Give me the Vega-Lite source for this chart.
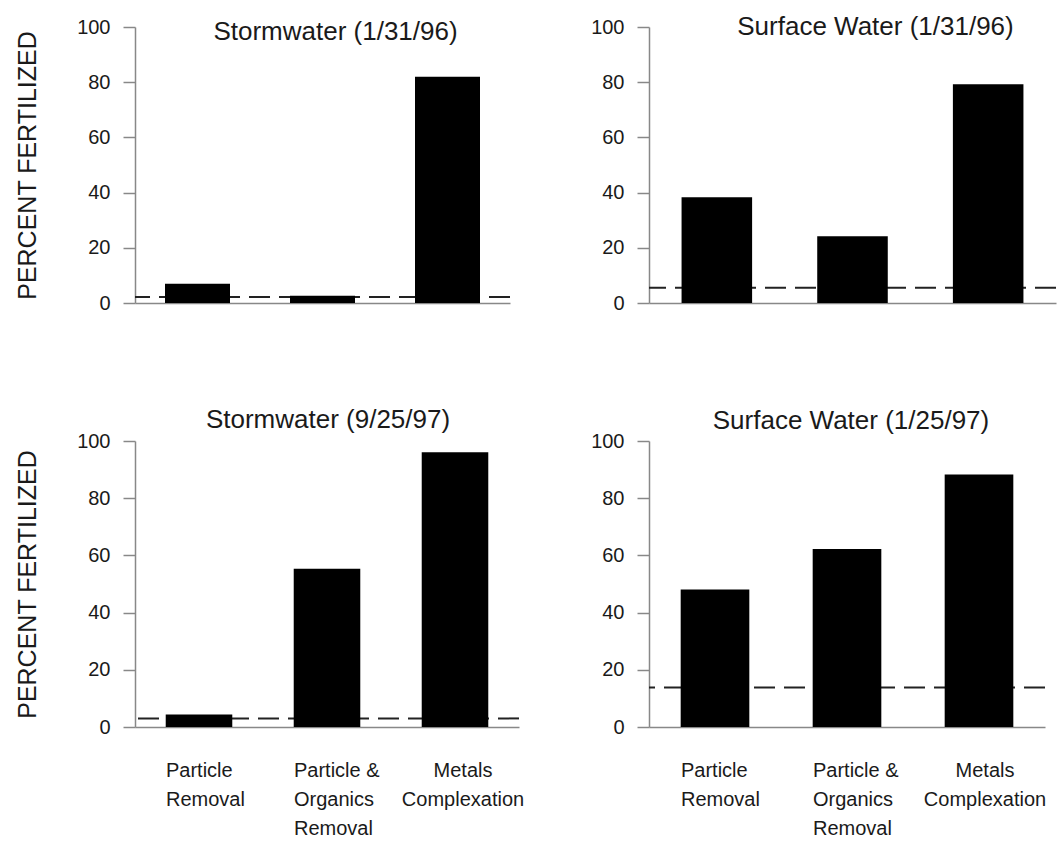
{
  "$schema": "https://vega.github.io/schema/vega-lite/v6.json",
  "background": "white",
  "padding": {"left": 15, "top": 14, "right": 0, "bottom": 0},
  "datasets": {
    "bars": [
      {"panel": "SW1", "treatment": "Particle Removal", "value": 7},
      {"panel": "SW1", "treatment": "Particle & Organics Removal", "value": 2.6},
      {"panel": "SW1", "treatment": "Metals Complexation", "value": 82},
      {"panel": "SU1", "treatment": "Particle Removal", "value": 38.3},
      {"panel": "SU1", "treatment": "Particle & Organics Removal", "value": 24.2},
      {"panel": "SU1", "treatment": "Metals Complexation", "value": 79.3},
      {"panel": "SW2", "treatment": "Particle Removal", "value": 4.4},
      {"panel": "SW2", "treatment": "Particle & Organics Removal", "value": 55.3},
      {"panel": "SW2", "treatment": "Metals Complexation", "value": 96.1},
      {"panel": "SU2", "treatment": "Particle Removal", "value": 48.1},
      {"panel": "SU2", "treatment": "Particle & Organics Removal", "value": 62.2},
      {"panel": "SU2", "treatment": "Metals Complexation", "value": 88.3}
    ],
    "controls": [
      {"panel": "SW1", "control": 2.2},
      {"panel": "SU1", "control": 5.5},
      {"panel": "SW2", "control": 3.0},
      {"panel": "SU2", "control": 13.8}
    ]
  },
  "columns": 2,
  "bounds": "flush",
  "align": "all",
  "spacing": {"row": 128, "column": 107},
  "concat": [
    {
      "width": 375, "height": 276,
      "title": {"text": "Stormwater (1/31/96)", "frame": "group", "anchor": "middle", "baseline": "alphabetic", "offset": 0, "dx": 13, "dy": 49},
      "layer": [
        {
          "data": {"name": "controls"},
          "transform": [{"filter": "datum.panel == 'SW1'"}],
          "mark": {"type": "rule", "color": "#222", "strokeWidth": 2, "strokeDash": [21, 9]},
          "encoding": {"y": {"field": "control", "type": "quantitative", "scale": {"domain": [0, 100]}, "axis": {"title": "PERCENT FERTILIZED", "values": [0, 20, 40, 60, 80, 100], "titlePadding": 36}}}
        },
        {
          "data": {"name": "bars"},
          "transform": [{"filter": "datum.panel == 'SW1'"}],
          "mark": {"type": "bar", "color": "#000"},
          "encoding": {
            "x": {"field": "treatment", "type": "nominal", "sort": ["Particle Removal", "Particle & Organics Removal", "Metals Complexation"], "scale": {"paddingInner": 0.48, "paddingOuter": 0.24}, "axis": {"title": null, "labels": false, "ticks": false}},
            "y": {"field": "value", "type": "quantitative", "scale": {"domain": [0, 100]}, "axis": {"title": "PERCENT FERTILIZED", "values": [0, 20, 40, 60, 80, 100], "titlePadding": 36}}
          }
        }
      ]
    },
    {
      "width": 407, "height": 276,
      "title": {"text": "Surface Water (1/31/96)", "frame": "group", "anchor": "middle", "baseline": "alphabetic", "offset": 0, "dx": 23, "dy": 44},
      "layer": [
        {
          "data": {"name": "controls"},
          "transform": [{"filter": "datum.panel == 'SU1'"}],
          "mark": {"type": "rule", "color": "#222", "strokeWidth": 2, "strokeDash": [21, 9]},
          "encoding": {"y": {"field": "control", "type": "quantitative", "scale": {"domain": [0, 100]}, "axis": {"title": null, "values": [0, 20, 40, 60, 80, 100]}}}
        },
        {
          "data": {"name": "bars"},
          "transform": [{"filter": "datum.panel == 'SU1'"}],
          "mark": {"type": "bar", "color": "#000"},
          "encoding": {
            "x": {"field": "treatment", "type": "nominal", "sort": ["Particle Removal", "Particle & Organics Removal", "Metals Complexation"], "scale": {"paddingInner": 0.48, "paddingOuter": 0.24}, "axis": {"title": null, "labels": false, "ticks": false}},
            "y": {"field": "value", "type": "quantitative", "scale": {"domain": [0, 100]}, "axis": {"title": null, "values": [0, 20, 40, 60, 80, 100]}}
          }
        }
      ]
    },
    {
      "width": 384, "height": 286,
      "title": {"text": "Stormwater (9/25/97)", "frame": "group", "anchor": "middle", "baseline": "alphabetic", "offset": 0, "dx": 1, "dy": 23},
      "layer": [
        {
          "data": {"name": "controls"},
          "transform": [{"filter": "datum.panel == 'SW2'"}],
          "mark": {"type": "rule", "color": "#222", "strokeWidth": 2, "strokeDash": [21, 9]},
          "encoding": {"y": {"field": "control", "type": "quantitative", "scale": {"domain": [0, 100]}, "axis": {"title": "PERCENT FERTILIZED", "values": [0, 20, 40, 60, 80, 100], "titlePadding": 36}}}
        },
        {
          "data": {"name": "bars"},
          "transform": [{"filter": "datum.panel == 'SW2'"}],
          "mark": {"type": "bar", "color": "#000"},
          "encoding": {
            "x": {"field": "treatment", "type": "nominal", "sort": ["Particle Removal", "Particle & Organics Removal", "Metals Complexation"], "scale": {"paddingInner": 0.48, "paddingOuter": 0.24},
              "axis": {"title": null, "ticks": false, "labelAngle": 0, "labelBaseline": "top", "labelPadding": 33, "labelFontSize": 20, "labelLineHeight": 29,
                "labelExpr": "datum.value == 'Particle Removal' ? ['Particle', 'Removal'] : datum.value == 'Particle & Organics Removal' ? ['Particle &', 'Organics', 'Removal'] : ['Metals', 'Complexation']",
                "labelAlign": {"condition": {"test": "datum.value == 'Metals Complexation'", "value": "center"}, "value": "left"},
                "labelOffset": {"condition": {"test": "datum.value == 'Metals Complexation'", "value": 8}, "value": -33}}},
            "y": {"field": "value", "type": "quantitative", "scale": {"domain": [0, 100]}, "axis": {"title": "PERCENT FERTILIZED", "values": [0, 20, 40, 60, 80, 100], "titlePadding": 36}}
          }
        }
      ]
    },
    {
      "width": 396, "height": 286,
      "title": {"text": "Surface Water (1/25/97)", "frame": "group", "anchor": "middle", "baseline": "alphabetic", "offset": 0, "dx": 4, "dy": 24},
      "layer": [
        {
          "data": {"name": "controls"},
          "transform": [{"filter": "datum.panel == 'SU2'"}],
          "mark": {"type": "rule", "color": "#222", "strokeWidth": 2, "strokeDash": [21, 9]},
          "encoding": {"y": {"field": "control", "type": "quantitative", "scale": {"domain": [0, 100]}, "axis": {"title": null, "values": [0, 20, 40, 60, 80, 100]}}}
        },
        {
          "data": {"name": "bars"},
          "transform": [{"filter": "datum.panel == 'SU2'"}],
          "mark": {"type": "bar", "color": "#000"},
          "encoding": {
            "x": {"field": "treatment", "type": "nominal", "sort": ["Particle Removal", "Particle & Organics Removal", "Metals Complexation"], "scale": {"paddingInner": 0.48, "paddingOuter": 0.24},
              "axis": {"title": null, "ticks": false, "labelAngle": 0, "labelBaseline": "top", "labelPadding": 33, "labelFontSize": 20, "labelLineHeight": 29,
                "labelExpr": "datum.value == 'Particle Removal' ? ['Particle', 'Removal'] : datum.value == 'Particle & Organics Removal' ? ['Particle &', 'Organics', 'Removal'] : ['Metals', 'Complexation']",
                "labelAlign": {"condition": {"test": "datum.value == 'Metals Complexation'", "value": "center"}, "value": "left"},
                "labelOffset": {"condition": {"test": "datum.value == 'Metals Complexation'", "value": 6}, "value": -34}}},
            "y": {"field": "value", "type": "quantitative", "scale": {"domain": [0, 100]}, "axis": {"title": null, "values": [0, 20, 40, 60, 80, 100]}}
          }
        }
      ]
    }
  ],
  "config": {
    "font": "Liberation Sans",
    "view": {"stroke": null},
    "title": {"fontSize": 26, "fontWeight": "normal", "color": "#1a1a1a", "font": "Liberation Sans"},
    "axis": {
      "grid": false,
      "domainColor": "#888",
      "domainWidth": 1.5,
      "tickColor": "#888",
      "tickWidth": 1.5,
      "tickSize": 12,
      "labelPadding": 13,
      "labelFontSize": 20,
      "labelColor": "#1a1a1a",
      "labelFont": "Liberation Sans",
      "titleFont": "Liberation Sans",
      "titleFontSize": 25,
      "titleFontWeight": "normal",
      "titleColor": "#1a1a1a"
    }
  }
}
